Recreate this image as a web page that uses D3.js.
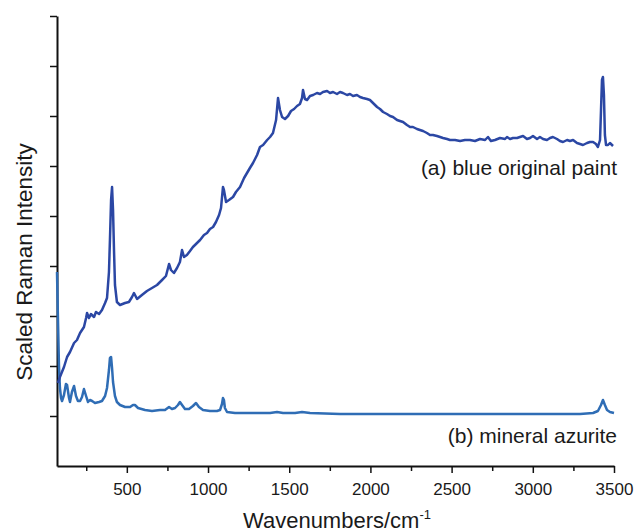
<!DOCTYPE html>
<html>
<head>
<meta charset="utf-8">
<title>Raman spectra</title>
<script src="https://cdn.jsdelivr.net/npm/d3@7"></script>
<style>
  body { margin: 0; background: #fff; }
  text { font-family: "Liberation Sans", Arial, sans-serif; fill: #1a1a1a; }
  .axis path, .axis line { stroke: #111; }
</style>
</head>
<body>
<div id="chart"></div>
<script>
// (a) blue original paint - wavenumber (cm-1) and scaled intensity
var paintX = [76, 88, 113, 132, 150, 175, 193, 212, 236, 249, 255, 267, 279, 298, 310, 329, 347, 366, 378, 390,
  396, 403, 409, 415, 421, 427, 439, 458, 489, 513, 532, 544, 563, 593, 624, 655, 686, 717, 741, 760,
  772, 790, 809, 827, 840, 852, 870, 889, 907, 926, 951, 975, 994, 1012, 1031, 1049, 1068, 1080, 1092, 1098,
  1111, 1129, 1154, 1172, 1197, 1222, 1240, 1258, 1277, 1302, 1320, 1339, 1364, 1382, 1400, 1419, 1431, 1443, 1456, 1474,
  1493, 1511, 1530, 1548, 1566, 1579, 1585, 1597, 1610, 1628, 1647, 1671, 1690, 1708, 1733, 1751, 1770, 1794, 1813, 1831,
  1856, 1874, 1893, 1917, 1936, 1954, 1979, 1997, 2016, 2041, 2059, 2078, 2102, 2121, 2139, 2164, 2182, 2201, 2225, 2244,
  2262, 2287, 2305, 2324, 2348, 2367, 2385, 2410, 2429, 2447, 2472, 2490, 2521, 2552, 2582, 2613, 2644, 2675, 2706, 2724,
  2742, 2767, 2798, 2829, 2841, 2860, 2878, 2903, 2921, 2940, 2964, 2983, 3001, 3026, 3044, 3063, 3087, 3106, 3124, 3149,
  3167, 3186, 3211, 3229, 3248, 3272, 3291, 3309, 3334, 3352, 3371, 3389, 3401, 3414, 3420, 3426, 3432, 3438, 3444, 3451,
  3463, 3475, 3494];
var paintY = [0.33, 0.39, 0.49, 0.59, 0.64, 0.73, 0.76, 0.83, 0.89, 0.98, 1.03, 0.98, 1.02, 0.99, 1.04, 1.02, 1.06, 1.13, 1.18, 1.44,
  1.76, 2.16, 2.29, 2.06, 1.66, 1.31, 1.14, 1.11, 1.13, 1.14, 1.19, 1.23, 1.17, 1.21, 1.25, 1.28, 1.31, 1.36, 1.40, 1.52,
  1.46, 1.43, 1.48, 1.54, 1.66, 1.59, 1.61, 1.65, 1.69, 1.72, 1.76, 1.81, 1.83, 1.87, 1.89, 1.94, 2.01, 2.08, 2.29, 2.26,
  2.14, 2.16, 2.19, 2.24, 2.29, 2.38, 2.43, 2.48, 2.53, 2.61, 2.69, 2.71, 2.76, 2.79, 2.83, 2.96, 3.18, 3.06, 2.99, 2.97,
  3.00, 3.05, 3.07, 3.10, 3.12, 3.18, 3.26, 3.17, 3.16, 3.20, 3.21, 3.23, 3.22, 3.24, 3.25, 3.23, 3.24, 3.22, 3.24, 3.23,
  3.21, 3.22, 3.20, 3.21, 3.19, 3.18, 3.17, 3.16, 3.13, 3.09, 3.07, 3.04, 3.02, 3.00, 2.99, 2.96, 2.95, 2.94, 2.91, 2.89,
  2.89, 2.87, 2.86, 2.85, 2.83, 2.81, 2.81, 2.80, 2.79, 2.78, 2.77, 2.76, 2.76, 2.75, 2.76, 2.76, 2.75, 2.77, 2.76, 2.79,
  2.75, 2.76, 2.78, 2.77, 2.79, 2.77, 2.78, 2.78, 2.79, 2.80, 2.77, 2.78, 2.80, 2.77, 2.79, 2.77, 2.76, 2.78, 2.79, 2.77,
  2.75, 2.74, 2.76, 2.75, 2.76, 2.73, 2.72, 2.71, 2.73, 2.74, 2.74, 2.72, 2.69, 2.76, 3.06, 3.36, 3.39, 3.21, 2.81, 2.71,
  2.71, 2.73, 2.70];

// (b) mineral azurite
var azuriteX = [70, 76, 82, 88, 95, 101, 113, 125, 132, 144, 150, 162, 175, 187, 199, 212, 224, 236, 249, 261,
  273, 286, 304, 329, 347, 366, 378, 390, 396, 403, 409, 415, 427, 439, 458, 489, 520, 538, 550, 569,
  612, 655, 704, 735, 760, 778, 797, 815, 827, 840, 858, 883, 907, 926, 944, 969, 1012, 1055, 1074, 1086,
  1092, 1098, 1104, 1117, 1166, 1258, 1382, 1425, 1462, 1536, 1579, 1628, 1813, 2182, 2552, 2921, 3291, 3371, 3401, 3420,
  3432, 3444, 3457, 3475, 3500];
var azuriteY = [1.44, 0.96, 0.51, 0.28, 0.18, 0.15, 0.21, 0.32, 0.31, 0.18, 0.14, 0.24, 0.30, 0.20, 0.15, 0.15, 0.19, 0.27, 0.20, 0.14,
  0.16, 0.15, 0.13, 0.14, 0.15, 0.20, 0.28, 0.46, 0.58, 0.59, 0.48, 0.34, 0.20, 0.14, 0.11, 0.09, 0.09, 0.11, 0.11, 0.08,
  0.06, 0.05, 0.06, 0.06, 0.09, 0.07, 0.08, 0.11, 0.14, 0.11, 0.07, 0.07, 0.10, 0.13, 0.09, 0.06, 0.05, 0.05, 0.06, 0.12,
  0.18, 0.16, 0.08, 0.04, 0.03, 0.03, 0.03, 0.04, 0.03, 0.03, 0.04, 0.03, 0.02, 0.02, 0.02, 0.02, 0.02, 0.03, 0.05, 0.11,
  0.16, 0.11, 0.06, 0.04, 0.03];

var xMajor = [500, 1000, 1500, 2000, 2500, 3000, 3500];
var xMinor = [250, 750, 1250, 1750, 2250, 2750, 3250];
var yTicks = [0, 0.5, 1, 1.5, 2, 2.5, 3, 3.5, 4];

var width = 640, height = 532;

var svg = d3.select("#chart").append("svg")
    .attr("width", width)
    .attr("height", height);

var xScale = d3.scaleLinear().domain([70, 3500]).range([57, 614]);
var yScale = d3.scaleLinear().domain([-0.5, 4]).range([466, 16]);

// minor x ticks first, then major axis on top
svg.append("g").classed("axis", true)
    .attr("transform", "translate(0,466)")
    .call(d3.axisBottom(xScale).tickValues(xMinor).tickFormat("").tickSize(5).tickSizeOuter(0))
    .call(function(g) { g.select(".domain").remove(); })
    .selectAll("line").attr("stroke-width", 1.5);

var xAxis = svg.append("g").classed("axis", true)
    .attr("transform", "translate(0,466)")
    .call(d3.axisBottom(xScale).tickValues(xMajor).tickFormat(d3.format("d")).tickSize(7).tickSizeOuter(0));
xAxis.select(".domain").attr("stroke-width", 2);
xAxis.selectAll("line").attr("stroke-width", 1.5);
xAxis.selectAll("text")
    .attr("font-size", 17)
    .attr("dy", null)
    .attr("y", 29);

var yAxis = svg.append("g").classed("axis", true)
    .attr("transform", "translate(57,0)")
    .call(d3.axisLeft(yScale).tickValues(yTicks).tickFormat("").tickSize(7).tickSizeOuter(0));
yAxis.select(".domain").attr("stroke-width", 2);
yAxis.selectAll("line").attr("stroke-width", 1.5);

function drawSpectrum(xs, ys, colour) {
  var pts = xs.map(function(d, i) { return [d, ys[i]]; });
  svg.append("path")
      .datum(pts)
      .attr("fill", "none")
      .attr("stroke", colour)
      .attr("stroke-width", 2.5)
      .attr("stroke-linejoin", "round")
      .attr("d", d3.line()
               .x(function(d) { return xScale(d[0]); })
               .y(function(d) { return yScale(d[1]); }));
}

drawSpectrum(azuriteX, azuriteY, "#2f6db5");
drawSpectrum(paintX, paintY, "#2b47a4");

svg.append("text")
    .attr("x", 617).attr("y", 175)
    .attr("text-anchor", "end")
    .attr("font-size", 21)
    .text("(a) blue original paint");

svg.append("text")
    .attr("x", 617).attr("y", 443)
    .attr("text-anchor", "end")
    .attr("font-size", 21)
    .text("(b) mineral azurite");

var xTitle = svg.append("text")
    .attr("x", 337).attr("y", 528)
    .attr("text-anchor", "middle")
    .attr("font-size", 22);
xTitle.append("tspan").text("Wavenumbers/cm");
xTitle.append("tspan").attr("font-size", 13).attr("dy", -9).text("-1");

svg.append("text")
    .attr("transform", "translate(32,262) rotate(-90)")
    .attr("text-anchor", "middle")
    .attr("font-size", 22.5)
    .text("Scaled Raman Intensity");
</script>
</body>
</html>
